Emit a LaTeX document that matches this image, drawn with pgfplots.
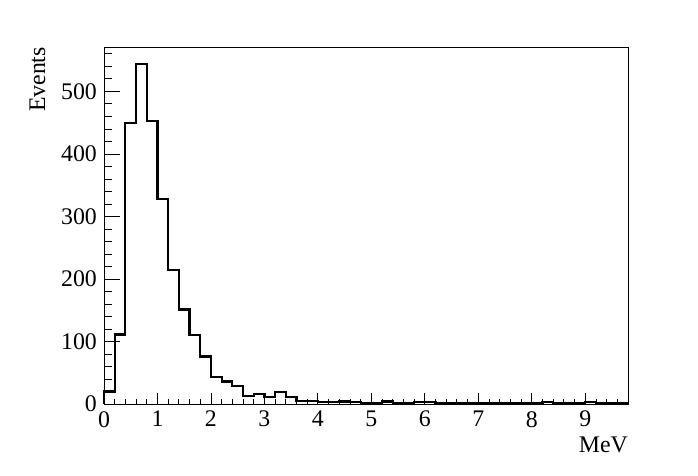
\documentclass[border=0pt]{standalone}
\usepackage{pgfplots}
\pgfplotsset{compat=1.18}
\usepackage{fontspec}
\setmainfont{Liberation Serif}
\begin{document}
\fontsize{23.8}{28}\selectfont
\begin{tikzpicture}[x=1pt,y=1pt]
\useasboundingbox (0,0) rectangle (698,476);
\begin{axis}[
  at={(104pt,72pt)}, anchor=south west,
  scale only axis, width=524pt, height=357pt,
  xmin=0, xmax=9.8, ymin=0, ymax=571,
  axis line style={line width=0.9pt},
  tick align=inside,
  xtick pos=bottom, ytick pos=left,
  xtick={0,1,...,9},
  ytick={0,100,...,500},
  minor xtick={0,0.2,...,9.8},
  minor ytick={0,20,...,560},
  x tick style={line width=0.8pt, black, /pgfplots/major tick length=10.7pt, /pgfplots/minor tick length=5.3pt},
  y tick style={line width=0.8pt, black, /pgfplots/major tick length=15.7pt, /pgfplots/minor tick length=7.8pt},
  /pgf/number format/assume math mode=true,
  ticklabel style={font=\fontsize{23.8}{28}\selectfont},
  xticklabel style={anchor=north, inner sep=0pt, yshift=-7pt},
  yticklabel style={anchor=east, inner sep=0pt, xshift=-7pt},
  clip=false,
]
\addplot[const plot mark left, black, line width=2.2pt, line join=miter] coordinates {
(0,0) (0,20) (0.2,111) (0.4,449) (0.6,544) (0.8,453) (1.0,328) (1.2,214) (1.4,151) (1.6,110) (1.8,76)
(2.0,43) (2.2,36) (2.4,29) (2.6,13) (2.8,16) (3.0,11) (3.2,19) (3.4,11) (3.6,5) (3.8,5)
(4.0,3) (4.2,3) (4.4,4) (4.6,3) (4.8,2) (5.0,2) (5.2,4) (5.4,2) (5.6,2) (5.8,3)
(6.0,3) (6.2,2) (6.4,1) (6.6,2) (6.8,2) (7.0,2) (7.2,2) (7.4,2) (7.6,1) (7.8,2)
(8.0,2) (8.2,3) (8.4,2) (8.6,2) (8.8,1) (9.0,3) (9.2,2) (9.4,1) (9.6,1) (9.8,1) (9.8,0)
};
\end{axis}
\node[rotate=90, anchor=base east, inner sep=0pt] at (45,429) {Events};
\node[anchor=base east, inner sep=0pt] at (628,23) {MeV};
\end{tikzpicture}
\end{document}
